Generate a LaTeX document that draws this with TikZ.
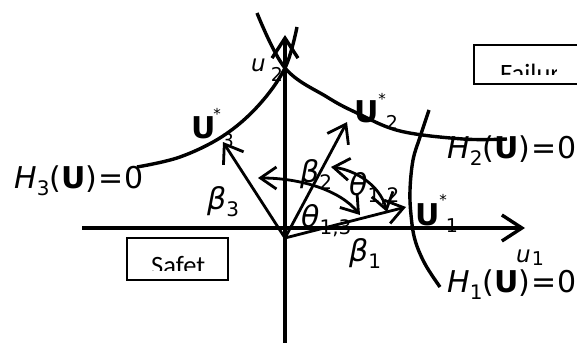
\documentclass[tikz,border=0pt]{standalone}
\usepackage{fontspec}
\usetikzlibrary{arrows.meta}
\newfontfamily\df{DejaVu Sans}
\newfontfamily\cf{Carlito}
\newcommand\lowsub[1]{\raisebox{-0.25em}{\fontsize{20}{20}\selectfont #1}}
\begin{document}
\begin{tikzpicture}[x=1pt,y=-1pt,
  curve/.style={line width=3.4pt},
  axis/.style={line width=3.4pt,-{Straight Barb[length=20pt,width=26pt]}},
  vec/.style={line width=2.8pt,-{Straight Barb[length=17pt,width=24pt]}},
  ang/.style={line width=2.8pt,{Straight Barb[length=16pt,width=22pt]}-{Straight Barb[length=16pt,width=22pt]}},
  lab/.style={font=\df\fontsize{30}{30}\selectfont, inner sep=0pt, anchor=base west},
  ulab/.style={font=\df\bfseries\fontsize{30}{30}\selectfont, inner sep=0pt, anchor=base west},
  star/.style={font=\df\fontsize{15}{15}\selectfont, inner sep=0pt},
  small/.style={font=\df\fontsize{19}{19}\selectfont, inner sep=0pt},
  box/.style={draw, line width=1.8pt},
  boxtext/.style={font=\cf\fontsize{26.5}{26.5}\selectfont, inner sep=0pt, anchor=base west}
]
\useasboundingbox (0,0) rectangle (577,342);

% axes
\coordinate (xl) at (82,228);
\coordinate (xr) at (525,228);
\coordinate (yb) at (285,345);
\coordinate (yt) at (285,35);
\draw[axis] (xl) -- (xr);
\draw[axis] (yb) -- (yt);

% limit state curves
\draw[curve] plot[smooth, tension=0.6] coordinates {(137,167) (180,157) (223,136) (258,106) (285,68) (297,27)};
\draw[curve] plot[smooth, tension=0.6] coordinates {(257,13) (285,68) (327,97) (357,113) (400,131) (463,139) (507,139)};
\draw[curve] plot[smooth, tension=0.6] coordinates {(429,110) (420,137) (413,160) (410,190) (411,215) (415,240) (425,264) (440,287)};

% design point vectors
\coordinate (O) at (285,238);
\coordinate (P1) at (406,207);
\coordinate (P2) at (347,122);
\coordinate (P3) at (223,142);
\draw[vec] (O) -- (P1);
\draw[vec] (O) -- (P2);
\draw[vec] (O) -- (P3);

% angle arcs
\coordinate (a13s) at (258,178);
\coordinate (a13e) at (360,215);
\coordinate (a12s) at (331,167);
\coordinate (a12e) at (387,212);
\draw[ang] (a13s) .. controls (300,178) and (340,190) .. (a13e);
\draw[ang] (a12s) .. controls (355,170) and (380,185) .. (a12e);

% axis labels
\node[font=\df\itshape\fontsize{23}{23}\selectfont, inner sep=0pt, anchor=base west] (u2l) at (251,72) {u};
\node[small] (u2s) at (277,74) {2};
\node[font=\df\itshape\fontsize{23}{23}\selectfont, inner sep=0pt, anchor=base west] (u1l) at (516,262) {u};
\node[small] (u1s) at (538,259) {1};

% design point labels
\node[ulab] (U3) at (191,138) {U};
\node[star] (U3st) at (217,114) {*};
\node[small] (U3sb) at (228,141) {3};
\node[ulab] (U2) at (354,122) {U};
\node[star] (U2st) at (382,99) {*};
\node[small] (U2sb) at (392,122) {2};
\node[ulab] (U1) at (415,225) {U};
\node[star] (U1st) at (443,200) {*};
\node[small] (U1sb) at (452,226) {1};

% beta / theta labels
\node[lab] (b1) at (349,261) {\textit{β}\lowsub{1}};
\node[lab] (b2) at (300,182) {\textit{β}\lowsub{2}};
\node[lab] (b3) at (207,209) {\textit{β}\lowsub{3}};
\node[lab] (t12) at (349,195) {\textit{θ}\lowsub{1,2}};
\node[lab] (t13) at (301,227) {\textit{θ}\lowsub{1,3}};

% limit state labels
\node[lab] (H3) at (14,188) {\textit{H}\lowsub{3}(\textbf{U})\kern1pt=\kern1pt0};
\node[lab] (H2) at (447,158) {\textit{H}\lowsub{2}(\textbf{U})\kern1pt=\kern1pt0};
\node[lab] (H1) at (447,292) {\textit{H}\lowsub{1}(\textbf{U})\kern1pt=\kern1pt0};

% region boxes
\draw[box] (127,238) rectangle (228,280);
\begin{scope}
\clip (127,238) rectangle (204,270);
\node[boxtext] (safe) at (151,274) {Safety};
\end{scope}
\draw[box] (474,45) rectangle (582,84);
\begin{scope}
\clip (474,45) rectangle (556,75);
\node[boxtext] (fail) at (500,83) {Failure};
\end{scope}
\end{tikzpicture}
\end{document}
